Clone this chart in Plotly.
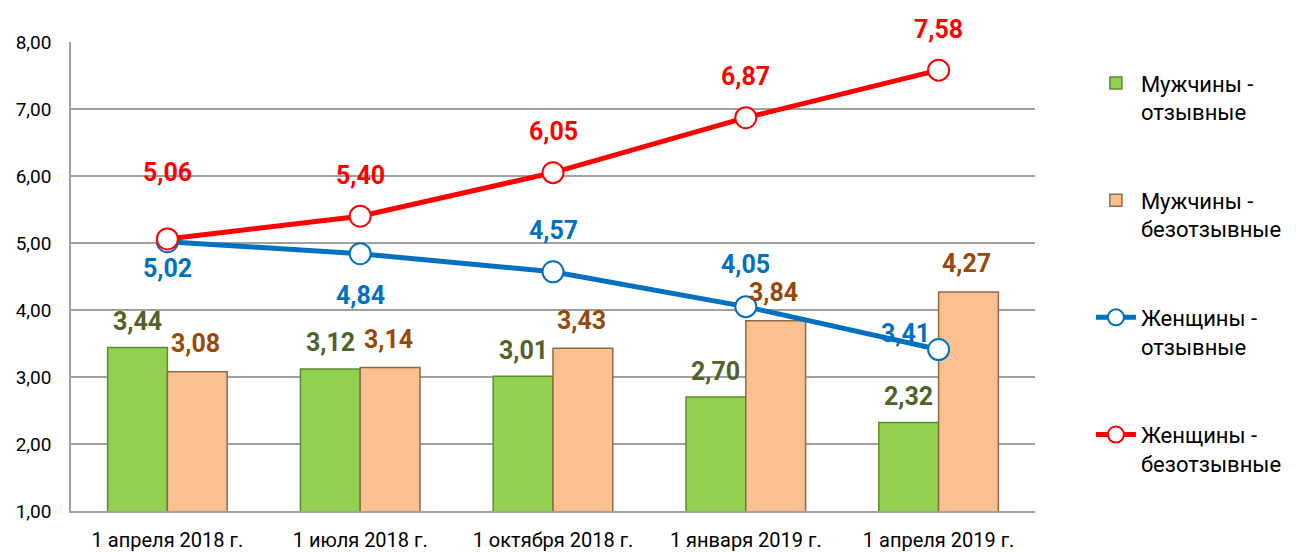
import plotly.graph_objects as go

categories = ["1 апреля 2018 г.", "1 июля 2018 г.", "1 октября 2018 г.", "1 января 2019 г.", "1 апреля 2019 г."]
men_rev = [3.44, 3.12, 3.01, 2.70, 2.32]
men_irrev = [3.08, 3.14, 3.43, 3.84, 4.27]
women_rev = [5.02, 4.84, 4.57, 4.05, 3.41]
women_irrev = [5.06, 5.40, 6.05, 6.87, 7.58]

names = ["Мужчины -<br>отзывные", "Мужчины -<br>безотзывные", "Женщины -<br>отзывные", "Женщины -<br>безотзывные"]

FONT = "Roboto"

def fmt(v):
    return f"{v:.2f}".replace(".", ",")

fig = go.Figure()
fig.add_trace(go.Bar(x=categories, y=men_rev, name=names[0], legendgroup="a",
                     marker=dict(color="#92D050", line=dict(color="#5E8A2E", width=1.5))))
fig.add_trace(go.Bar(x=categories, y=men_irrev, name=names[1], legendgroup="b",
                     marker=dict(color="#FAC090", line=dict(color="#8C6A45", width=1.5))))
fig.add_trace(go.Scatter(x=categories, y=women_rev, name=names[2], legendgroup="c", mode="lines+markers",
                         line=dict(color="#0070C0", width=5),
                         marker=dict(size=21, color="white", line=dict(color="#0070C0", width=2))))
fig.add_trace(go.Scatter(x=categories, y=women_irrev, name=names[3], legendgroup="d", mode="lines+markers",
                         line=dict(color="#FF0000", width=5),
                         marker=dict(size=21, color="white", line=dict(color="#FF0000", width=2))))

ann = []
lab_font = dict(family=FONT, size=25)
for i, c in enumerate(categories):
    ann.append(dict(x=c, y=men_rev[i], text=f"<b>{fmt(men_rev[i])}</b>", showarrow=False,
                    xshift=-30, yshift=26, font=dict(lab_font, color="#4F6228")))
    ann.append(dict(x=c, y=men_irrev[i], text=f"<b>{fmt(men_irrev[i])}</b>", showarrow=False,
                    xshift=28, yshift=28, font=dict(lab_font, color="#984807")))
    ry = 66 if i == 0 else 41
    ann.append(dict(x=c, y=women_irrev[i], text=f"<b>{fmt(women_irrev[i])}</b>", showarrow=False,
                    yshift=ry, font=dict(lab_font, color="#FF0000")))
blue_shift = [(0, -27), (0, -42), (0, 41), (0, 42), (-33, 16)]
for i, c in enumerate(categories):
    dx, dy = blue_shift[i]
    ann.append(dict(x=c, y=women_rev[i], text=f"<b>{fmt(women_rev[i])}</b>", showarrow=False,
                    xshift=dx, yshift=dy, font=dict(lab_font, color="#0070C0")))

fig.update_layout(
    width=1288, height=544,
    margin=dict(l=63, r=261, t=34, b=41, autoexpand=False),
    plot_bgcolor="white", paper_bgcolor="white",
    separators=", ",
    barmode="group", bargap=0.38, bargroupgap=0.0,
    font=dict(family=FONT, size=19, color="black"),
    annotations=ann,
    legend=dict(x=1.058, xanchor="left", y=0.957, yanchor="top",
                font=dict(family=FONT, size=22, color="black"),
                tracegroupgap=57, valign="top", itemwidth=40),
    showlegend=True,
)
fig.update_yaxes(range=[1, 8], dtick=1, tickformat=".2f", showgrid=True, gridcolor="#A0A0A0", gridwidth=1.5,
                 showline=True, linecolor="#A0A0A0", linewidth=1.5, ticks="", zeroline=False,
                 tickfont=dict(size=19), ticklabelstandoff=14, automargin=False)
fig.update_xaxes(showline=True, linecolor="#A0A0A0", linewidth=1.5, ticks="", tickfont=dict(size=20),
                 ticklabelstandoff=10, automargin=False)

fig.write_html("out.html")
